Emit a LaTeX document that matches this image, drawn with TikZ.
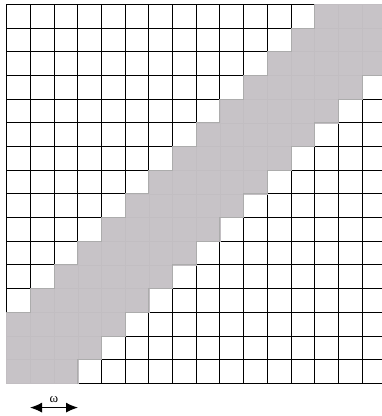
\documentclass[tikz,border=0pt]{standalone}
\usepackage{fontspec}
\newfontfamily\omegafont{Liberation Serif}
\usetikzlibrary{arrows.meta}
\definecolor{bandfill}{RGB}{199,195,199}
\definecolor{bandinner}{RGB}{194,190,194}
\definecolor{bandedge}{RGB}{172,172,172}
\tikzset{
  gridline/.style={draw=black,line width=0.9pt},
  bandcell/.style={fill=bandfill,draw=bandinner,line width=0.5pt},
  bandborder/.style={draw=bandedge,line width=0.9pt,line cap=rect},
  warrow/.style={{Latex[length=12pt,width=10pt]}-{Latex[length=12pt,width=10pt]},line width=1.1pt}
}
\begin{document}
\begin{tikzpicture}[x=1pt,y=-1pt]
\useasboundingbox (0,0) rectangle (382,416);
\fill[white] (0,0) rectangle (382,416);
\begin{scope}
\clip (0,0) rectangle (382,416);
\def\ox{6.7}\def\oy{4.3}\def\cs{23.69}
% white cells with black borders
\foreach \r in {0,...,15}{
  \foreach \c in {0,...,15}{
    \pgfmathtruncatemacro{\lo}{13-\r}
    \pgfmathtruncatemacro{\hi}{17-\r}
    \pgfmathtruncatemacro{\isg}{(\c>=\lo)&&(\c<=\hi)?1:0}
    \ifnum\isg=0
      \draw[gridline] ({\ox+\c*\cs},{\oy+\r*\cs}) rectangle ({\ox+(\c+1)*\cs},{\oy+(\r+1)*\cs});
    \fi
  }
}
% band cells
\foreach \r in {0,...,15}{
  \foreach \c in {0,...,15}{
    \pgfmathtruncatemacro{\lo}{13-\r}
    \pgfmathtruncatemacro{\hi}{17-\r}
    \pgfmathtruncatemacro{\isg}{(\c>=\lo)&&(\c<=\hi)?1:0}
    \ifnum\isg=1
      \path[bandcell] ({\ox+\c*\cs},{\oy+\r*\cs}) rectangle ({\ox+(\c+1)*\cs},{\oy+(\r+1)*\cs});
    \fi
  }
}
% staircase boundaries of the band
\foreach \r in {0,...,12}{
  \draw[bandborder] ({\ox+(13-\r)*\cs},{\oy+\r*\cs}) -- ({\ox+(13-\r)*\cs},{\oy+(\r+1)*\cs}) -- ({\ox+(12-\r)*\cs},{\oy+(\r+1)*\cs});
}
\foreach \r in {3,...,15}{
  \draw[bandborder] ({\ox+(19-\r)*\cs},{\oy+\r*\cs}) -- ({\ox+(18-\r)*\cs},{\oy+\r*\cs}) -- ({\ox+(18-\r)*\cs},{\oy+(\r+1)*\cs});
}
\end{scope}
% omega arrow
\coordinate (wl) at (30,407.6);
\coordinate (wr) at (78,407.6);
\draw[warrow] (wl) -- (wr);
\node[inner sep=0pt] (wlab) at (54,399.5) {\omegafont\fontsize{13}{13}\selectfont ω};
\end{tikzpicture}
\end{document}
